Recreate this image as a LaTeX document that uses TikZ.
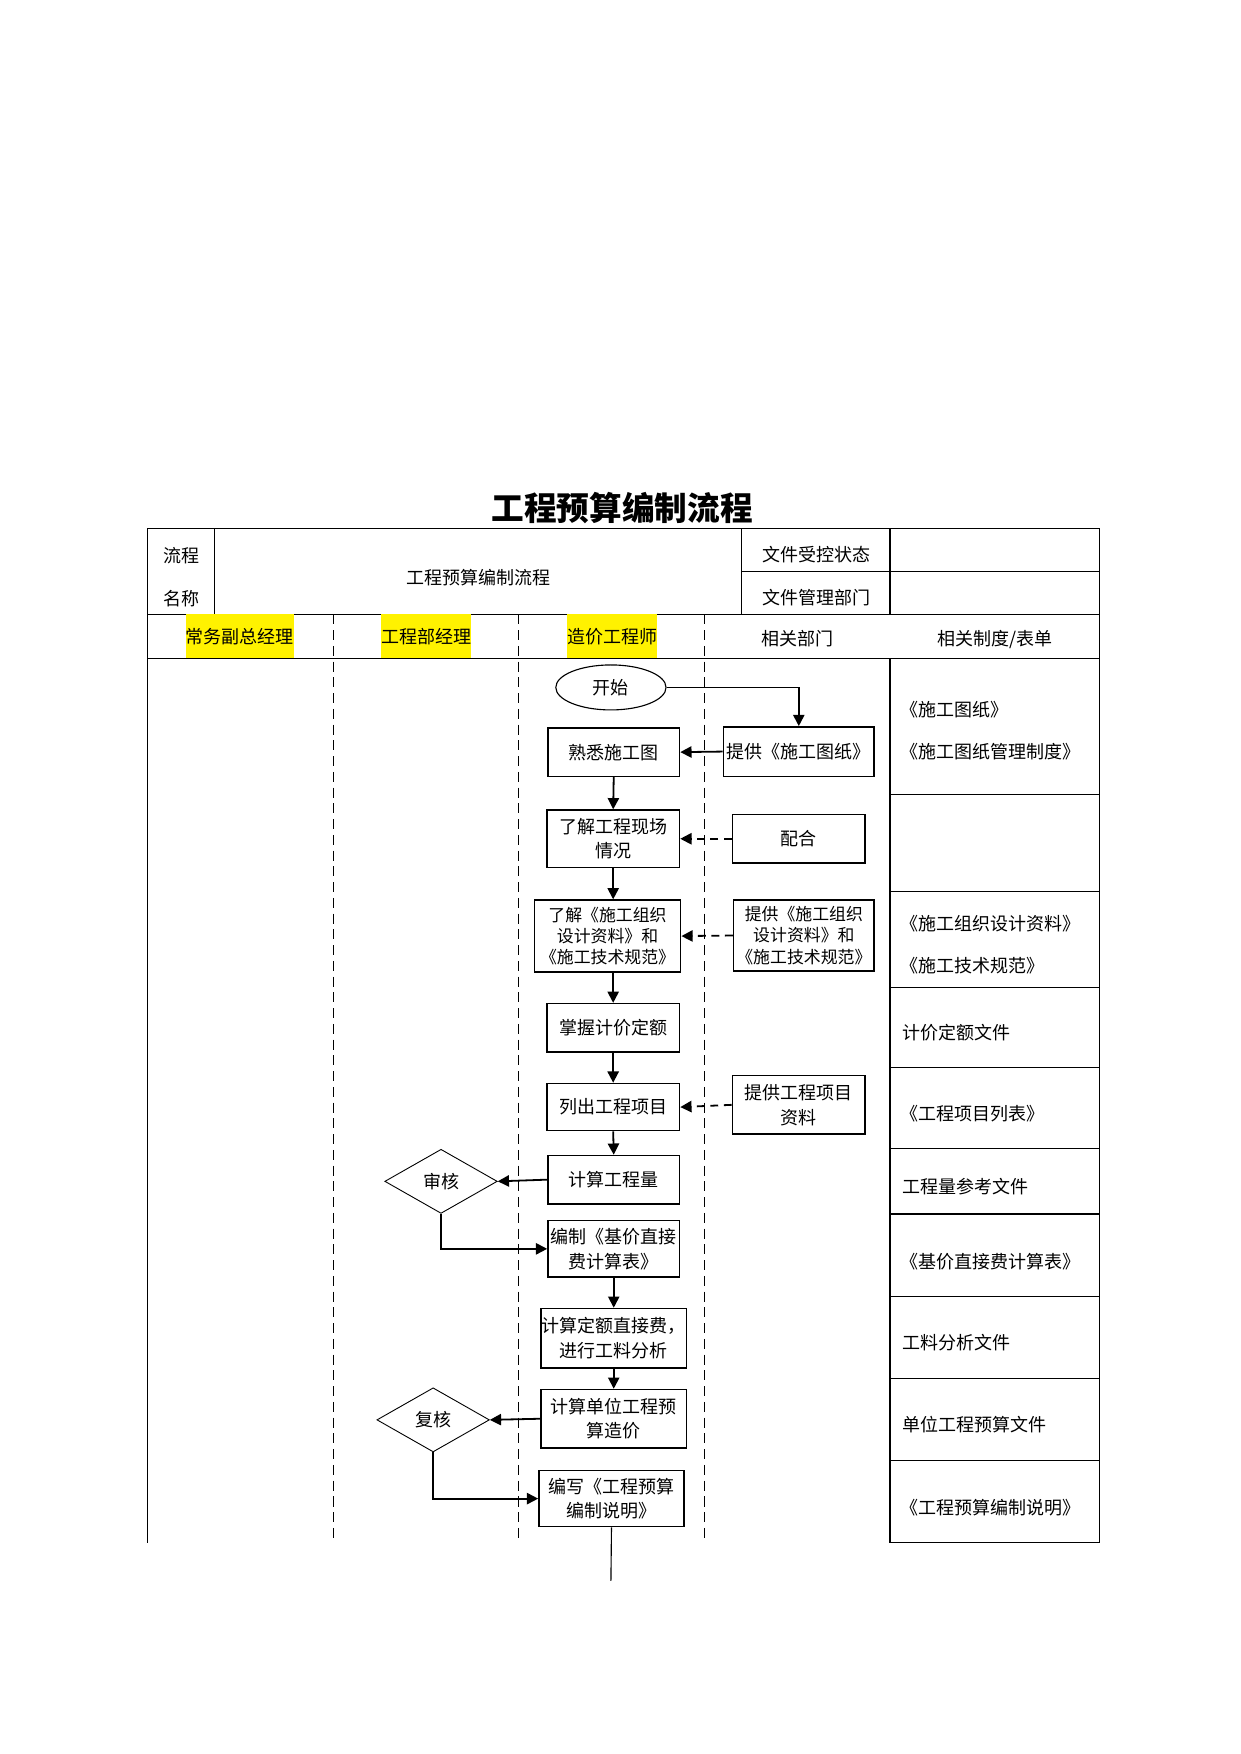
\documentclass[tikz,border=0pt]{standalone}
\usepackage{fontspec}
\setmainfont{Noto Sans CJK SC}
\usetikzlibrary{shapes.geometric,arrows.meta}

\begin{document}
\begin{tikzpicture}
[x=1pt, y=-1pt, font=\fontsize{16}{22}\selectfont,
every node/.style={align=center, inner sep=0pt},
flowbox/.style 2 args={draw, line width=1.3pt, minimum width=#1, minimum height=#2},
check/.style={diamond, draw, line width=0.8pt, aspect=1.75, minimum width=100pt, minimum height=57pt},
flow/.style={line width=1.6pt, -{Triangle[length=10pt,width=10pt]}},
feed/.style={flow, dash pattern=on 7pt off 5pt},
lane/.style={line width=0.8pt, dash pattern=on 9pt off 5pt},
form/.style={anchor=west},
mark yellow/.style={fill=yellow, minimum height=39pt}]
\useasboundingbox (0,0) rectangle (1103,1559);

% title and table head
\node[font=\fontsize{29}{30}\selectfont\bfseries] (title) at (553,452) {工程预算编制流程};
\draw[line width=1pt] (131,470) rectangle (977,585);
\draw[line width=1pt] (191,470) -- (191,546) (659,470) -- (659,546) (791,470) -- (791,546)
  (659,508) -- (977,508) (131,546) -- (977,546);
\node (flowname1) at (161,494) {流程};
\node (flowname2) at (161,532) {名称};
\node (flowtitle) at (425,513) {工程预算编制流程};
\node (status) at (726,493) {文件受控状态};
\node (owner) at (726,531) {文件管理部门};
\node[mark yellow] (vicegm) at (213,565.5) {常务副总经理};
\node[mark yellow] (projmgr) at (379,565.5) {工程部经理};
\node[mark yellow] (costeng) at (544,565.5) {造价工程师};
\node (dept) at (709,568) {相关部门};
\node (rules) at (884,568) {相关制度/表单};

% lanes
\foreach \x in {296,461,626}
  \draw[lane] (\x,546) -- (\x,1371);
\draw[line width=1pt] (131,585) -- (131,1371) (791,585) -- (791,1371) (977,585) -- (977,1371);
\foreach \y in {706,792,878,949,1021,1079,1152,1225,1298,1371}
  \draw[line width=1pt] (791,\y) -- (977,\y);

% flow
\node[ellipse, draw, line width=1pt, minimum width=98pt, minimum height=40pt] (start) at (543,611) {开始};
\node[flowbox={117pt}{43pt}] (familiar) at (545.5,668.5) {熟悉施工图};
\node[flowbox={134pt}{44pt}] (drawing) at (710,668) {提供《施工图纸》};
\node[flowbox={118pt}{51pt}] (site) at (545,745.5) {了解工程现场\\情况};
\node[flowbox={118pt}{43pt}] (coop) at (710,745.5) {配合};
\node[flowbox={130pt}{64pt}, font=\fontsize{15}{19}\selectfont] (design) at (540,832) {了解《施工组织\\设计资料》和\\《施工技术规范》};
\node[flowbox={125pt}{63pt}, font=\fontsize{15}{19}\selectfont] (designsrc) at (714.5,831.5) {提供《施工组织\\设计资料》和\\《施工技术规范》};
\node[flowbox={118pt}{43pt}] (quota) at (545,913.5) {掌握计价定额};
\node[flowbox={118pt}{42pt}] (items) at (545,984) {列出工程项目};
\node[flowbox={118pt}{52pt}] (itemsrc) at (710,982) {提供工程项目\\资料};
\node[flowbox={117pt}{43pt}] (quantity) at (545.5,1048.5) {计算工程量};
\node[check] (audit) at (392,1050) {审核};
\node[flowbox={117pt}{50pt}] (directfee) at (545.5,1110) {编制《基价直接\\费计算表》};
\node[flowbox={129pt}{53pt}] (analysis) at (545.5,1189.5) {计算定额直接费，\\进行工料分析};
\node[flowbox={129pt}{52pt}] (unitcost) at (545.5,1261) {计算单位工程预\\算造价};
\node[check] (recheck) at (385,1262) {复核};
\node[flowbox={129pt}{50pt}] (explain) at (543.5,1332) {编写《工程预算\\编制说明》};
\coordinate (flowend) at (543,1405);

\draw[flow] (start.east) -| (drawing.north);
\draw[flow] (drawing.west) -- (familiar.east);
\draw[flow] (familiar.south) -- (site.north);
\draw[feed] (coop.west) -- (site.east);
\draw[flow] (site.south) -- (site.south |- design.north);
\draw[feed] (designsrc.west) -- (design.east);
\draw[flow] (design.south -| quota) -- (quota.north);
\draw[flow] (quota.south) -- (items.north);
\draw[feed] (itemsrc.west) -- (items.east);
\draw[flow] (items.south) -- (quantity.north);
\draw[flow] (quantity.west) -- (audit.east);
\draw[flow] (audit.south) |- (directfee.west);
\draw[flow] (directfee.south) -- (analysis.north);
\draw[flow] (analysis.south) -- (unitcost.north);
\draw[flow] (unitcost.west) -- (recheck.east);
\draw[flow] (recheck.south) |- (explain.west);
\draw[line width=1pt] (explain.south) -- (flowend);

% forms
\node[form] (form1) at (800,631) {《施工图纸》};
\node[form] (form2) at (800,668) {《施工图纸管理制度》};
\node[form] (form3) at (800,821) {《施工组织设计资料》};
\node[form] (form4) at (800,858) {《施工技术规范》};
\node[form] (form5) at (802,918) {计价定额文件};
\node[form] (form6) at (800,990) {《工程项目列表》};
\node[form] (form7) at (802,1055) {工程量参考文件};
\node[form] (form8) at (800,1121) {《基价直接费计算表》};
\node[form] (form9) at (802,1193) {工料分析文件};
\node[form] (form10) at (802,1266) {单位工程预算文件};
\node[form] (form11) at (800,1340) {《工程预算编制说明》};
\end{tikzpicture}
\end{document}
